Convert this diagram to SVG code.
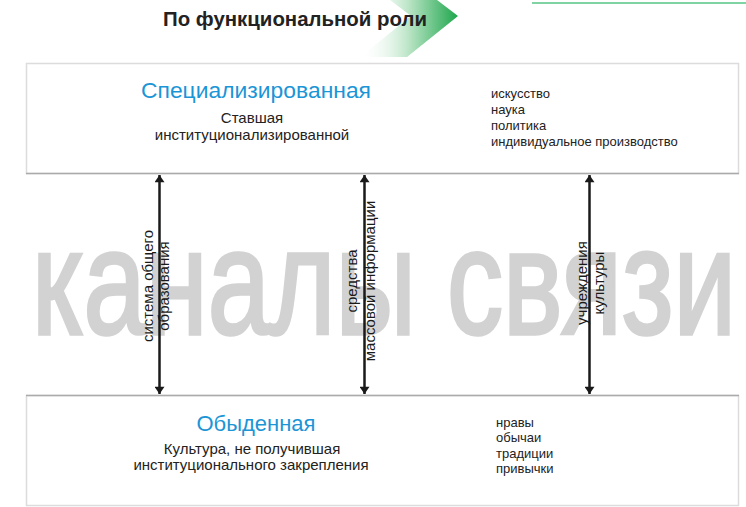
<svg xmlns="http://www.w3.org/2000/svg" width="746" height="507" viewBox="0 0 746 507">
<style>
.box{fill:#fff;stroke:#dcdcdc;stroke-width:1.5}
.edge{stroke:#ababab;stroke-width:1.5}
.head{font-family:"Liberation Sans",Arial,sans-serif;font-size:22px;fill:#1b95d6;text-anchor:middle}
.sub{font-family:"Liberation Sans",Arial,sans-serif;font-size:15px;fill:#222;text-anchor:middle}
.list{font-family:"Liberation Sans",Arial,sans-serif;font-size:13px;fill:#222}
.lbl{font-family:"Liberation Sans",Arial,sans-serif;font-size:15px;fill:#1a1a1a;text-anchor:middle}
.arr{stroke:#1a1a1a;stroke-width:2.5}
.wm{font-family:"Liberation Sans",Arial,sans-serif;font-size:150px;fill:#d2d2d2;stroke:#d2d2d2;stroke-width:3.5}
</style>
<defs>
<linearGradient id="g" gradientUnits="userSpaceOnUse" x1="360" y1="0" x2="458" y2="0">
<stop offset="0" stop-color="#ffffff" stop-opacity="0"/>
<stop offset="0.5" stop-color="#b9e4c5"/>
<stop offset="1" stop-color="#1ea64c"/>
</linearGradient>
<marker id="ah" viewBox="0 0 10 14" refX="10" refY="7" markerWidth="14" markerHeight="10" markerUnits="userSpaceOnUse" orient="auto-start-reverse">
<path d="M0,0 L10,7 L0,14 Z" fill="#1a1a1a"/>
</marker>
</defs>

<g id="header">
<polygon points="390,0 437,0 458,16 407,57 360,57 411,16" fill="url(#g)"/>
<line x1="532" y1="3" x2="746" y2="3" stroke="#80d3a2" stroke-width="2"/>
<text x="163" y="26" font-family="Liberation Sans,Arial,sans-serif" font-size="21" font-weight="bold" fill="#222" textLength="264" lengthAdjust="spacingAndGlyphs">По функциональной роли</text>
</g>

<text class="wm" x="32" y="334" textLength="704" lengthAdjust="spacingAndGlyphs">каналы связи</text>

<g id="specialized">
<rect class="box" x="26.5" y="63.5" width="712" height="110"/>
<line class="edge" x1="26" y1="173.5" x2="739" y2="173.5"/>
<text class="head" x="256" y="98" textLength="230" lengthAdjust="spacingAndGlyphs">Специализированная</text>
<text class="sub" x="252" y="123">Ставшая</text>
<text class="sub" x="252" y="140">институционализированной</text>
<text class="list" x="491" y="98">искусство</text>
<text class="list" x="491" y="114">наука</text>
<text class="list" x="491" y="130">политика</text>
<text class="list" x="491" y="146">индивидуальное производство</text>
</g>

<g id="ordinary">
<rect class="box" x="26.5" y="395.5" width="712" height="110"/>
<line class="edge" x1="26" y1="395.5" x2="739" y2="395.5"/>
<text class="head" x="256" y="431">Обыденная</text>
<text class="sub" x="252" y="454">Культура, не получившая</text>
<text class="sub" x="251" y="470">институционального закрепления</text>
<text class="list" x="496" y="427">нравы</text>
<text class="list" x="496" y="442">обычаи</text>
<text class="list" x="496" y="458">традиции</text>
<text class="list" x="496" y="473">привычки</text>
</g>

<g id="connectors">
<line class="arr" x1="159.5" y1="175" x2="159.5" y2="394" marker-start="url(#ah)" marker-end="url(#ah)"/>
<line class="arr" x1="364.5" y1="175" x2="364.5" y2="394" marker-start="url(#ah)" marker-end="url(#ah)"/>
<line class="arr" x1="589.5" y1="175" x2="589.5" y2="394" marker-start="url(#ah)" marker-end="url(#ah)"/>
</g>

<g id="labels">
<text class="lbl" transform="translate(153,286) rotate(-90)">система общего</text>
<text class="lbl" transform="translate(169,286) rotate(-90)">образования</text>
<text class="lbl" transform="translate(357,281) rotate(-90)">средства</text>
<text class="lbl" transform="translate(375,281) rotate(-90)">массовой информации</text>
<text class="lbl" transform="translate(587,283) rotate(-90)">учреждения</text>
<text class="lbl" transform="translate(604,283) rotate(-90)">культуры</text>
</g>
</svg>
